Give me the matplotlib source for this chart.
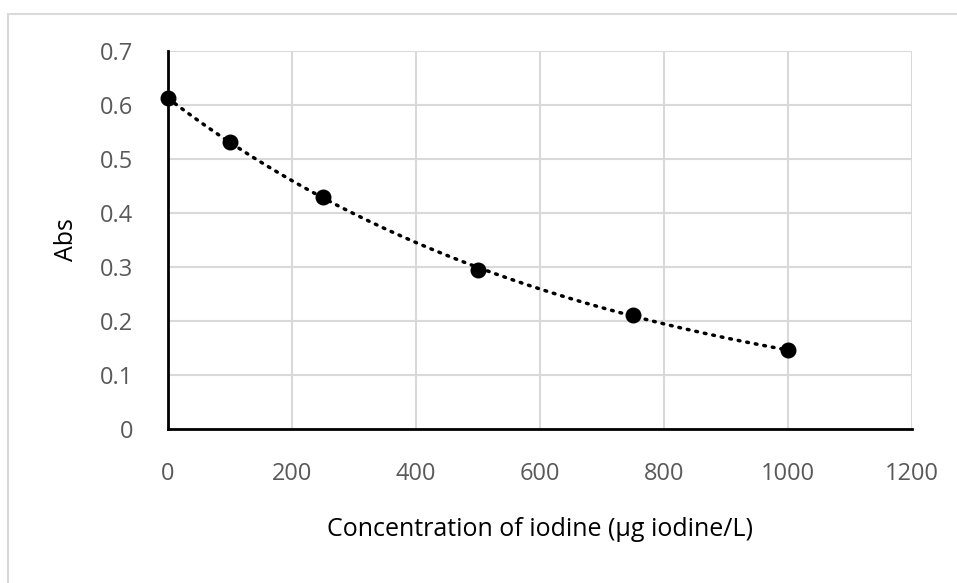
import numpy as np
import matplotlib
matplotlib.use("Agg")
import matplotlib.pyplot as plt
from matplotlib.patches import Rectangle

conc = [0, 100, 250, 500, 750, 1000]
absorb = [0.613, 0.531, 0.430, 0.295, 0.211, 0.146]
x_ticks = [0, 200, 400, 600, 800, 1000, 1200]
y_ticks = [0, 0.1, 0.2, 0.3, 0.4, 0.5, 0.6, 0.7]
y_tick_labels = ["0", "0.1", "0.2", "0.3", "0.4", "0.5", "0.6", "0.7"]

plt.rcParams['font.family'] = ['Open Sans', 'DejaVu Sans']

W, H = 957, 583
fig = plt.figure(figsize=(W/100, H/100), dpi=100)
fig.patch.set_facecolor('white')

# outer chart border (cropped on right/bottom)
fig.patches.append(Rectangle((8/W, -0.1), 1.2, 1.1 - 14/H, transform=fig.transFigure,
                             fill=False, edgecolor='#d9d9d9', linewidth=1.5))

ax = fig.add_axes([168/W, 1-429/H, (912-168)/W, (429-51)/H])
ax.set_xlim(0, 1200)
ax.set_ylim(0, 0.7)
ax.set_xticks(x_ticks)
ax.set_yticks(y_ticks)
ax.set_yticklabels(y_tick_labels)
ax.grid(True, color='#d9d9d9', linewidth=1.5)
ax.set_axisbelow(True)
for s in ['top', 'right']:
    ax.spines[s].set_visible(False)
for s in ['left', 'bottom']:
    ax.spines[s].set_color('black')
    ax.spines[s].set_linewidth(2)
ax.tick_params(length=0, labelsize=17, colors='#595959', pad=0)
ax.tick_params(axis='y', pad=25)
ax.tick_params(axis='x', pad=24)

# exponential trendline (least squares on ln y, as Excel)
b, lna = np.polyfit(conc, np.log(absorb), 1)
xf = np.linspace(min(conc), max(conc), 200)
ax.plot(xf, np.exp(lna) * np.exp(b * xf), color='black', linewidth=2.5,
        linestyle=(0, (0.5, 2.0)), dash_capstyle='round', zorder=2)

ax.scatter(conc, absorb, s=110, color='black', zorder=3, clip_on=False)

ax.set_xlabel('Concentration of iodine (μg iodine/L)', fontsize=18, color='black', labelpad=22)
ax.set_ylabel('Abs', fontsize=18, color='black', labelpad=15)

fig.savefig('out.png', dpi=100)
